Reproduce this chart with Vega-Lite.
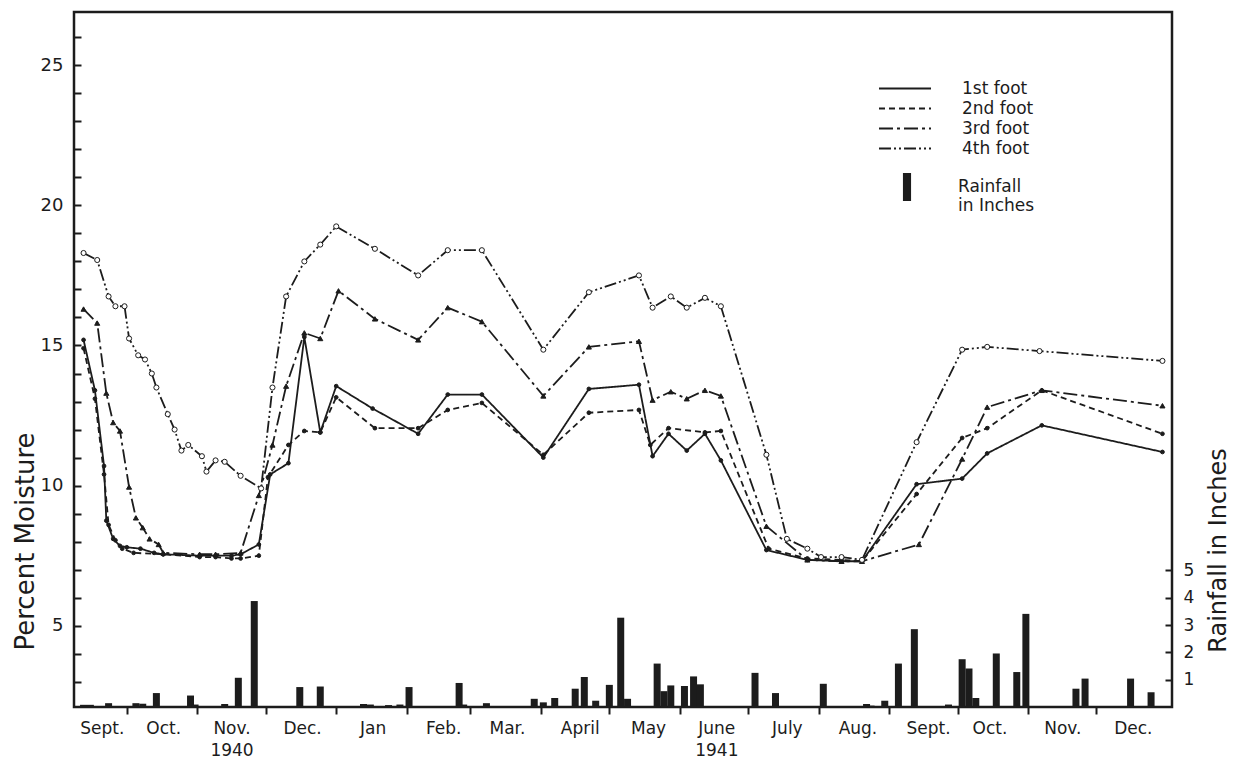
{
  "$schema": "https://vega.github.io/schema/vega-lite/v6.json",
  "width": 1098,
  "height": 695,
  "autosize": {"type": "none"},
  "padding": {"left": 74, "top": 12, "right": 63, "bottom": 61},
  "background": "white",
  "config": {
    "view": {"stroke": "#1c1c1c", "strokeWidth": 2.5},
    "font": "DejaVu Sans",
    "axis": {"grid": false, "domain": false, "labelColor": "#1c1c1c", "tickColor": "#1c1c1c", "titleColor": "#1c1c1c", "titleFontWeight": "normal", "labelFont": "DejaVu Sans", "titleFont": "DejaVu Sans"},
    "legend": {"labelFont": "DejaVu Sans", "labelColor": "#1c1c1c"}
  },
  "datasets": {
    "rain": [
      {"date": "1940-09-12", "inches": 0.08}, {"date": "1940-09-15", "inches": 0.08}, {"date": "1940-09-23", "inches": 0.14},
      {"date": "1940-10-05", "inches": 0.14}, {"date": "1940-10-08", "inches": 0.12}, {"date": "1940-10-14", "inches": 0.51},
      {"date": "1940-10-29", "inches": 0.42}, {"date": "1940-10-31", "inches": 0.09}, {"date": "1940-11-13", "inches": 0.11},
      {"date": "1940-11-19", "inches": 1.07}, {"date": "1940-11-26", "inches": 3.88}, {"date": "1940-12-16", "inches": 0.73},
      {"date": "1940-12-25", "inches": 0.75}, {"date": "1941-01-13", "inches": 0.11}, {"date": "1941-01-16", "inches": 0.09},
      {"date": "1941-01-24", "inches": 0.07}, {"date": "1941-01-29", "inches": 0.09}, {"date": "1941-02-02", "inches": 0.73},
      {"date": "1941-02-24", "inches": 0.88}, {"date": "1941-02-26", "inches": 0.09}, {"date": "1941-03-08", "inches": 0.14},
      {"date": "1941-03-29", "inches": 0.3}, {"date": "1941-04-02", "inches": 0.17}, {"date": "1941-04-07", "inches": 0.33},
      {"date": "1941-04-16", "inches": 0.67}, {"date": "1941-04-20", "inches": 1.1}, {"date": "1941-04-25", "inches": 0.23},
      {"date": "1941-05-01", "inches": 0.81}, {"date": "1941-05-06", "inches": 3.27}, {"date": "1941-05-09", "inches": 0.3},
      {"date": "1941-05-22", "inches": 1.59}, {"date": "1941-05-25", "inches": 0.58}, {"date": "1941-05-28", "inches": 0.79},
      {"date": "1941-06-03", "inches": 0.77}, {"date": "1941-06-07", "inches": 1.12}, {"date": "1941-06-10", "inches": 0.83},
      {"date": "1941-07-04", "inches": 1.25}, {"date": "1941-07-13", "inches": 0.51}, {"date": "1941-08-03", "inches": 0.85},
      {"date": "1941-08-22", "inches": 0.11}, {"date": "1941-08-24", "inches": 0.05}, {"date": "1941-08-30", "inches": 0.23},
      {"date": "1941-09-05", "inches": 1.59}, {"date": "1941-09-12", "inches": 2.85}, {"date": "1941-09-27", "inches": 0.09},
      {"date": "1941-10-03", "inches": 1.75}, {"date": "1941-10-06", "inches": 1.41}, {"date": "1941-10-09", "inches": 0.33},
      {"date": "1941-10-18", "inches": 1.96}, {"date": "1941-10-27", "inches": 1.28}, {"date": "1941-10-31", "inches": 3.41},
      {"date": "1941-11-22", "inches": 0.67}, {"date": "1941-11-26", "inches": 1.04}, {"date": "1941-12-16", "inches": 1.04},
      {"date": "1941-12-25", "inches": 0.54}
    ],
    "moisture": [
      {"date": "1940-09-12", "series": "1st foot", "moisture": 15.2},
      {"date": "1940-09-17", "series": "1st foot", "moisture": 13.4},
      {"date": "1940-09-21", "series": "1st foot", "moisture": 10.7},
      {"date": "1940-09-22", "series": "1st foot", "moisture": 8.75},
      {"date": "1940-09-25", "series": "1st foot", "moisture": 8.1},
      {"date": "1940-09-28", "series": "1st foot", "moisture": 7.85},
      {"date": "1940-10-01", "series": "1st foot", "moisture": 7.8},
      {"date": "1940-10-07", "series": "1st foot", "moisture": 7.75},
      {"date": "1940-10-13", "series": "1st foot", "moisture": 7.6},
      {"date": "1940-10-17", "series": "1st foot", "moisture": 7.55},
      {"date": "1940-11-02", "series": "1st foot", "moisture": 7.5},
      {"date": "1940-11-09", "series": "1st foot", "moisture": 7.5},
      {"date": "1940-11-16", "series": "1st foot", "moisture": 7.5},
      {"date": "1940-11-20", "series": "1st foot", "moisture": 7.55},
      {"date": "1940-11-28", "series": "1st foot", "moisture": 7.9},
      {"date": "1940-12-03", "series": "1st foot", "moisture": 10.4},
      {"date": "1940-12-11", "series": "1st foot", "moisture": 10.8},
      {"date": "1940-12-18", "series": "1st foot", "moisture": 15.3},
      {"date": "1940-12-25", "series": "1st foot", "moisture": 11.9},
      {"date": "1941-01-01", "series": "1st foot", "moisture": 13.55},
      {"date": "1941-01-17", "series": "1st foot", "moisture": 12.75},
      {"date": "1941-02-06", "series": "1st foot", "moisture": 11.85},
      {"date": "1941-02-19", "series": "1st foot", "moisture": 13.25},
      {"date": "1941-03-06", "series": "1st foot", "moisture": 13.25},
      {"date": "1941-04-02", "series": "1st foot", "moisture": 11.0},
      {"date": "1941-04-22", "series": "1st foot", "moisture": 13.45},
      {"date": "1941-05-14", "series": "1st foot", "moisture": 13.6},
      {"date": "1941-05-20", "series": "1st foot", "moisture": 11.05},
      {"date": "1941-05-27", "series": "1st foot", "moisture": 11.85},
      {"date": "1941-06-04", "series": "1st foot", "moisture": 11.25},
      {"date": "1941-06-12", "series": "1st foot", "moisture": 11.85},
      {"date": "1941-06-19", "series": "1st foot", "moisture": 10.9},
      {"date": "1941-07-09", "series": "1st foot", "moisture": 7.7},
      {"date": "1941-07-27", "series": "1st foot", "moisture": 7.35},
      {"date": "1941-08-11", "series": "1st foot", "moisture": 7.3},
      {"date": "1941-08-20", "series": "1st foot", "moisture": 7.3},
      {"date": "1941-09-13", "series": "1st foot", "moisture": 10.05},
      {"date": "1941-10-03", "series": "1st foot", "moisture": 10.25},
      {"date": "1941-10-14", "series": "1st foot", "moisture": 11.15},
      {"date": "1941-11-07", "series": "1st foot", "moisture": 12.15},
      {"date": "1941-12-30", "series": "1st foot", "moisture": 11.2},

      {"date": "1940-09-12", "series": "2nd foot", "moisture": 14.9},
      {"date": "1940-09-17", "series": "2nd foot", "moisture": 13.1},
      {"date": "1940-09-21", "series": "2nd foot", "moisture": 10.4},
      {"date": "1940-09-23", "series": "2nd foot", "moisture": 8.6},
      {"date": "1940-09-26", "series": "2nd foot", "moisture": 8.05},
      {"date": "1940-09-29", "series": "2nd foot", "moisture": 7.75},
      {"date": "1940-10-04", "series": "2nd foot", "moisture": 7.6},
      {"date": "1940-10-17", "series": "2nd foot", "moisture": 7.55},
      {"date": "1940-11-02", "series": "2nd foot", "moisture": 7.45},
      {"date": "1940-11-09", "series": "2nd foot", "moisture": 7.45},
      {"date": "1940-11-16", "series": "2nd foot", "moisture": 7.4},
      {"date": "1940-11-20", "series": "2nd foot", "moisture": 7.4},
      {"date": "1940-11-28", "series": "2nd foot", "moisture": 7.5},
      {"date": "1940-12-02", "series": "2nd foot", "moisture": 10.3},
      {"date": "1940-12-11", "series": "2nd foot", "moisture": 11.45},
      {"date": "1940-12-18", "series": "2nd foot", "moisture": 11.95},
      {"date": "1940-12-25", "series": "2nd foot", "moisture": 11.9},
      {"date": "1941-01-01", "series": "2nd foot", "moisture": 13.15},
      {"date": "1941-01-18", "series": "2nd foot", "moisture": 12.05},
      {"date": "1941-02-06", "series": "2nd foot", "moisture": 12.05},
      {"date": "1941-02-19", "series": "2nd foot", "moisture": 12.7},
      {"date": "1941-03-06", "series": "2nd foot", "moisture": 12.95},
      {"date": "1941-04-02", "series": "2nd foot", "moisture": 11.1},
      {"date": "1941-04-22", "series": "2nd foot", "moisture": 12.6},
      {"date": "1941-05-14", "series": "2nd foot", "moisture": 12.7},
      {"date": "1941-05-19", "series": "2nd foot", "moisture": 11.45},
      {"date": "1941-05-27", "series": "2nd foot", "moisture": 12.05},
      {"date": "1941-06-12", "series": "2nd foot", "moisture": 11.9},
      {"date": "1941-06-19", "series": "2nd foot", "moisture": 11.95},
      {"date": "1941-07-10", "series": "2nd foot", "moisture": 7.75},
      {"date": "1941-07-27", "series": "2nd foot", "moisture": 7.4},
      {"date": "1941-08-11", "series": "2nd foot", "moisture": 7.35},
      {"date": "1941-08-20", "series": "2nd foot", "moisture": 7.3},
      {"date": "1941-09-13", "series": "2nd foot", "moisture": 9.7},
      {"date": "1941-10-03", "series": "2nd foot", "moisture": 11.7},
      {"date": "1941-10-14", "series": "2nd foot", "moisture": 12.05},
      {"date": "1941-11-07", "series": "2nd foot", "moisture": 13.4},
      {"date": "1941-12-30", "series": "2nd foot", "moisture": 11.85},

      {"date": "1940-09-12", "series": "3rd foot", "moisture": 16.3},
      {"date": "1940-09-18", "series": "3rd foot", "moisture": 15.8},
      {"date": "1940-09-22", "series": "3rd foot", "moisture": 13.3},
      {"date": "1940-09-25", "series": "3rd foot", "moisture": 12.25},
      {"date": "1940-09-28", "series": "3rd foot", "moisture": 11.95},
      {"date": "1940-10-02", "series": "3rd foot", "moisture": 9.95},
      {"date": "1940-10-05", "series": "3rd foot", "moisture": 8.85},
      {"date": "1940-10-08", "series": "3rd foot", "moisture": 8.5},
      {"date": "1940-10-11", "series": "3rd foot", "moisture": 8.1},
      {"date": "1940-10-15", "series": "3rd foot", "moisture": 7.9},
      {"date": "1940-10-17", "series": "3rd foot", "moisture": 7.6},
      {"date": "1940-11-02", "series": "3rd foot", "moisture": 7.55},
      {"date": "1940-11-09", "series": "3rd foot", "moisture": 7.55},
      {"date": "1940-11-20", "series": "3rd foot", "moisture": 7.6},
      {"date": "1940-11-28", "series": "3rd foot", "moisture": 9.65},
      {"date": "1940-12-04", "series": "3rd foot", "moisture": 11.45},
      {"date": "1940-12-10", "series": "3rd foot", "moisture": 13.55},
      {"date": "1940-12-18", "series": "3rd foot", "moisture": 15.45},
      {"date": "1940-12-25", "series": "3rd foot", "moisture": 15.25},
      {"date": "1941-01-02", "series": "3rd foot", "moisture": 16.95},
      {"date": "1941-01-18", "series": "3rd foot", "moisture": 15.95},
      {"date": "1941-02-06", "series": "3rd foot", "moisture": 15.2},
      {"date": "1941-02-19", "series": "3rd foot", "moisture": 16.35},
      {"date": "1941-03-06", "series": "3rd foot", "moisture": 15.85},
      {"date": "1941-04-02", "series": "3rd foot", "moisture": 13.2},
      {"date": "1941-04-22", "series": "3rd foot", "moisture": 14.95},
      {"date": "1941-05-14", "series": "3rd foot", "moisture": 15.15},
      {"date": "1941-05-20", "series": "3rd foot", "moisture": 13.05},
      {"date": "1941-05-28", "series": "3rd foot", "moisture": 13.35},
      {"date": "1941-06-04", "series": "3rd foot", "moisture": 13.1},
      {"date": "1941-06-12", "series": "3rd foot", "moisture": 13.4},
      {"date": "1941-06-19", "series": "3rd foot", "moisture": 13.2},
      {"date": "1941-07-09", "series": "3rd foot", "moisture": 8.55},
      {"date": "1941-07-27", "series": "3rd foot", "moisture": 7.35},
      {"date": "1941-08-11", "series": "3rd foot", "moisture": 7.3},
      {"date": "1941-08-20", "series": "3rd foot", "moisture": 7.3},
      {"date": "1941-09-14", "series": "3rd foot", "moisture": 7.9},
      {"date": "1941-10-03", "series": "3rd foot", "moisture": 10.95},
      {"date": "1941-10-14", "series": "3rd foot", "moisture": 12.8},
      {"date": "1941-11-07", "series": "3rd foot", "moisture": 13.4},
      {"date": "1941-12-30", "series": "3rd foot", "moisture": 12.85},

      {"date": "1940-09-12", "series": "4th foot", "moisture": 18.3},
      {"date": "1940-09-18", "series": "4th foot", "moisture": 18.05},
      {"date": "1940-09-23", "series": "4th foot", "moisture": 16.75},
      {"date": "1940-09-26", "series": "4th foot", "moisture": 16.4},
      {"date": "1940-09-30", "series": "4th foot", "moisture": 16.4},
      {"date": "1940-10-02", "series": "4th foot", "moisture": 15.25},
      {"date": "1940-10-06", "series": "4th foot", "moisture": 14.65},
      {"date": "1940-10-09", "series": "4th foot", "moisture": 14.5},
      {"date": "1940-10-12", "series": "4th foot", "moisture": 14.0},
      {"date": "1940-10-14", "series": "4th foot", "moisture": 13.5},
      {"date": "1940-10-19", "series": "4th foot", "moisture": 12.55},
      {"date": "1940-10-22", "series": "4th foot", "moisture": 12.0},
      {"date": "1940-10-25", "series": "4th foot", "moisture": 11.25},
      {"date": "1940-10-28", "series": "4th foot", "moisture": 11.45},
      {"date": "1940-11-03", "series": "4th foot", "moisture": 11.05},
      {"date": "1940-11-05", "series": "4th foot", "moisture": 10.5},
      {"date": "1940-11-09", "series": "4th foot", "moisture": 10.9},
      {"date": "1940-11-13", "series": "4th foot", "moisture": 10.85},
      {"date": "1940-11-20", "series": "4th foot", "moisture": 10.35},
      {"date": "1940-11-29", "series": "4th foot", "moisture": 9.9},
      {"date": "1940-12-04", "series": "4th foot", "moisture": 13.5},
      {"date": "1940-12-10", "series": "4th foot", "moisture": 16.75},
      {"date": "1940-12-18", "series": "4th foot", "moisture": 18.0},
      {"date": "1940-12-25", "series": "4th foot", "moisture": 18.6},
      {"date": "1941-01-01", "series": "4th foot", "moisture": 19.25},
      {"date": "1941-01-18", "series": "4th foot", "moisture": 18.45},
      {"date": "1941-02-06", "series": "4th foot", "moisture": 17.5},
      {"date": "1941-02-19", "series": "4th foot", "moisture": 18.4},
      {"date": "1941-03-06", "series": "4th foot", "moisture": 18.4},
      {"date": "1941-04-02", "series": "4th foot", "moisture": 14.85},
      {"date": "1941-04-22", "series": "4th foot", "moisture": 16.9},
      {"date": "1941-05-14", "series": "4th foot", "moisture": 17.5},
      {"date": "1941-05-20", "series": "4th foot", "moisture": 16.35},
      {"date": "1941-05-28", "series": "4th foot", "moisture": 16.75},
      {"date": "1941-06-04", "series": "4th foot", "moisture": 16.35},
      {"date": "1941-06-12", "series": "4th foot", "moisture": 16.7},
      {"date": "1941-06-19", "series": "4th foot", "moisture": 16.4},
      {"date": "1941-07-09", "series": "4th foot", "moisture": 11.1},
      {"date": "1941-07-18", "series": "4th foot", "moisture": 8.1},
      {"date": "1941-07-27", "series": "4th foot", "moisture": 7.75},
      {"date": "1941-08-02", "series": "4th foot", "moisture": 7.45},
      {"date": "1941-08-11", "series": "4th foot", "moisture": 7.45},
      {"date": "1941-08-20", "series": "4th foot", "moisture": 7.35},
      {"date": "1941-09-13", "series": "4th foot", "moisture": 11.55},
      {"date": "1941-10-03", "series": "4th foot", "moisture": 14.85},
      {"date": "1941-10-14", "series": "4th foot", "moisture": 14.95},
      {"date": "1941-11-06", "series": "4th foot", "moisture": 14.8},
      {"date": "1941-12-30", "series": "4th foot", "moisture": 14.45}
    ]
  },
  "layer": [
    {
      "data": {"name": "rain"},
      "mark": {"type": "bar", "size": 7, "color": "#1c1c1c"},
      "encoding": {
        "x": {
          "field": "date", "type": "temporal",
          "scale": {"type": "utc", "domain": [{"year": 1940, "month": 9, "date": 10, "utc": true}, {"year": 1942, "month": 1, "date": 1, "utc": true}]},
          "axis": {
            "orient": "bottom", "title": null, "labels": false, "ticks": true, "tickSize": 7, "tickWidth": 2,
            "values": [
              {"year": 1940, "month": 10, "date": 1, "utc": true}, {"year": 1940, "month": 11, "date": 1, "utc": true},
              {"year": 1940, "month": 12, "date": 1, "utc": true}, {"year": 1941, "month": 1, "date": 1, "utc": true},
              {"year": 1941, "month": 2, "date": 1, "utc": true}, {"year": 1941, "month": 3, "date": 1, "utc": true},
              {"year": 1941, "month": 4, "date": 1, "utc": true}, {"year": 1941, "month": 5, "date": 1, "utc": true},
              {"year": 1941, "month": 6, "date": 1, "utc": true}, {"year": 1941, "month": 7, "date": 1, "utc": true},
              {"year": 1941, "month": 8, "date": 1, "utc": true}, {"year": 1941, "month": 9, "date": 1, "utc": true},
              {"year": 1941, "month": 10, "date": 1, "utc": true}, {"year": 1941, "month": 11, "date": 1, "utc": true},
              {"year": 1941, "month": 12, "date": 1, "utc": true}
            ]
          }
        },
        "y": {
          "field": "inches", "type": "quantitative",
          "scale": {"domain": [0, 25.45], "nice": false, "zero": true},
          "axis": {
            "orient": "right", "offset": -7, "values": [1, 2, 3, 4, 5], "tickSize": 7, "tickWidth": 2, "labelPadding": 11,
            "labelFontSize": 17, "labelOverlap": false,
            "title": "Rainfall in Inches", "titleFontSize": 24, "titleAngle": 270,
            "titleX": 53, "titleY": 538, "titleAlign": "center", "titleBaseline": "middle"
          }
        },
        "fill": {
          "datum": "Rainfall in Inches", "type": "nominal",
          "scale": {"range": ["#1c1c1c"]},
          "legend": {
            "title": null, "orient": "none", "legendX": 819, "legendY": 161, "padding": 0,
            "symbolType": "M-0.29,-1H0.29V1H-0.29Z", "symbolSize": 784, "symbolStrokeWidth": 0,
            "labelOffset": 37, "labelFontSize": 17, "labelExpr": "['Rainfall', 'in Inches']"
          }
        }
      }
    },
    {
      "data": {"name": "moisture"},
      "layer": [
        {
          "mark": {"type": "line", "stroke": "#1c1c1c", "strokeWidth": 1.8},
          "encoding": {
            "x": {
              "field": "date", "type": "temporal",
              "scale": {"type": "utc", "domain": [{"year": 1940, "month": 9, "date": 10, "utc": true}, {"year": 1942, "month": 1, "date": 1, "utc": true}]},
              "axis": {
                "orient": "bottom", "title": null, "ticks": false, "labelFontSize": 17, "labelPadding": 13,
                "labelLineHeight": 22, "labelAlign": "center", "labelOverlap": false,
                "values": [
                  {"year": 1940, "month": 9, "date": 20, "utc": true}, {"year": 1940, "month": 10, "date": 17, "utc": true},
                  {"year": 1940, "month": 11, "date": 16, "utc": true}, {"year": 1940, "month": 12, "date": 17, "utc": true},
                  {"year": 1941, "month": 1, "date": 17, "utc": true}, {"year": 1941, "month": 2, "date": 17, "utc": true},
                  {"year": 1941, "month": 3, "date": 17, "utc": true}, {"year": 1941, "month": 4, "date": 18, "utc": true},
                  {"year": 1941, "month": 5, "date": 18, "utc": true}, {"year": 1941, "month": 6, "date": 17, "utc": true},
                  {"year": 1941, "month": 7, "date": 18, "utc": true}, {"year": 1941, "month": 8, "date": 18, "utc": true},
                  {"year": 1941, "month": 9, "date": 18, "utc": true}, {"year": 1941, "month": 10, "date": 15, "utc": true},
                  {"year": 1941, "month": 11, "date": 16, "utc": true}, {"year": 1941, "month": 12, "date": 17, "utc": true}
                ],
                "labelExpr": "utcyear(datum.value) == 1940 && utcmonth(datum.value) == 10 ? ['Nov.', '1940'] : utcyear(datum.value) == 1941 && utcmonth(datum.value) == 5 ? ['June', '1941'] : ['Jan', 'Feb.', 'Mar.', 'April', 'May', 'June', 'July', 'Aug.', 'Sept.', 'Oct.', 'Nov.', 'Dec.'][utcmonth(datum.value)]"
              }
            },
            "y": {
              "field": "moisture", "type": "quantitative",
              "scale": {"domain": [2.1, 26.9], "nice": false, "zero": false},
              "axis": {
                "orient": "left", "offset": -7, "values": [3, 4, 5, 6, 7, 8, 9, 10, 11, 12, 13, 14, 15, 16, 17, 18, 19, 20, 21, 22, 23, 24, 25, 26],
                "tickSize": 7, "tickWidth": 2, "labels": false, "title": null
              }
            },
            "strokeDash": {
              "field": "series", "type": "nominal",
              "scale": {"domain": ["1st foot", "2nd foot", "3rd foot", "4th foot"], "range": [[1, 0], [6, 4], [14, 4, 3, 4], [12, 3, 2, 3, 2, 3]]},
              "legend": {
                "title": null, "orient": "none", "legendX": 804, "legendY": 68, "padding": 0,
                "symbolType": "stroke", "symbolSize": 2704, "symbolStrokeWidth": 1.8, "symbolStrokeColor": "#1c1c1c",
                "clipHeight": 17, "labelOffset": 30, "labelFontSize": 17, "rowPadding": 2
              }
            }
          }
        },
        {
          "mark": {"type": "point", "filled": true, "stroke": "#1c1c1c", "strokeWidth": 1, "opacity": 1},
          "encoding": {
            "x": {"field": "date", "type": "temporal"},
            "y": {
              "field": "moisture", "type": "quantitative",
              "axis": {
                "orient": "left", "offset": -7, "values": [5, 10, 15, 20, 25], "ticks": false, "tickSize": 0,
                "labelPadding": 18, "labelFontSize": 18, "labelOverlap": false,
                "title": "Percent Moisture", "titleFontSize": 26, "titleAngle": 270,
                "titleX": -56, "titleY": 529, "titleAlign": "center", "titleBaseline": "middle"
              }
            },
            "shape": {"condition": {"test": "datum.series == '3rd foot'", "value": "triangle-up"}, "value": "circle"},
            "fill": {"condition": {"test": "datum.series == '4th foot'", "value": "#ffffff"}, "value": "#1c1c1c"},
            "size": {"condition": {"test": "datum.series == '3rd foot' || datum.series == '4th foot'", "value": 26}, "value": 14}
          }
        }
      ],
      "resolve": {"axis": {"y": "independent"}}
    }
  ],
  "resolve": {"scale": {"y": "independent", "fill": "independent"}, "axis": {"x": "independent"}}
}
